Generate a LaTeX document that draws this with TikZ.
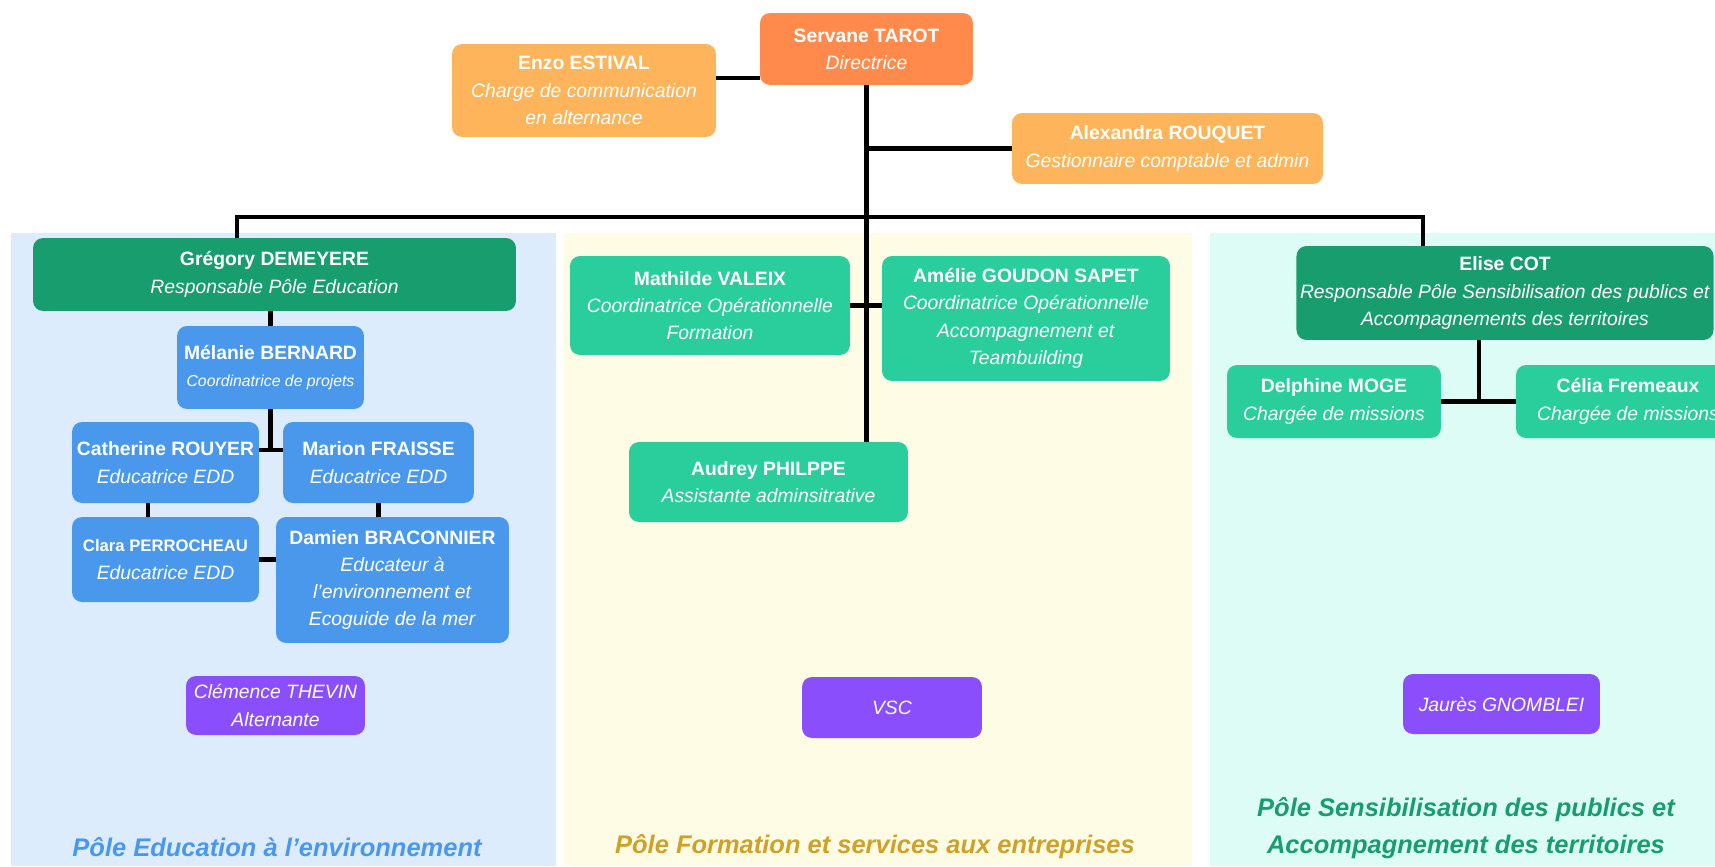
\documentclass[tikz,border=0pt]{standalone}
\usepackage{fontspec}
\setmainfont{Liberation Sans}
\usepackage{tikz}
\definecolor{dirorange}{RGB}{255,138,76}
\definecolor{lightorange}{RGB}{253,180,90}
\definecolor{darkgreen}{RGB}{24,158,110}
\definecolor{edublue}{RGB}{74,152,236}
\definecolor{formgreen}{RGB}{42,206,156}
\definecolor{stagepurple}{RGB}{139,78,252}
\definecolor{panelblue}{RGB}{221,236,253}
\definecolor{panelyellow}{RGB}{255,252,230}
\definecolor{panelmint}{RGB}{221,252,246}
\definecolor{titlegold}{RGB}{206,162,40}
\tikzstyle{box} = [rectangle, rounded corners=0.2cm, text=white, align=center,
inner sep=2pt, font=\fontsize{11}{15.5}\selectfont]
\tikzstyle{direction} = [box, fill=dirorange]
\tikzstyle{support} = [box, fill=lightorange]
\tikzstyle{chief} = [box, fill=darkgreen]
\tikzstyle{educ} = [box, fill=edublue]
\tikzstyle{staff} = [box, fill=formgreen]
\tikzstyle{trainee} = [box, fill=stagepurple]
\tikzstyle{link} = [line width=2.5pt, black]
\tikzstyle{poletitle} = [font=\fontsize{14.5}{21}\selectfont\bfseries\itshape,
align=center]

\begin{document}
\begin{tikzpicture}[x=0.02cm, y=-0.02cm]

\clip (0,0) rectangle (1715,866);

% fonds des poles
\fill[panelblue] (11,233) rectangle (556,866);
\fill[panelyellow] (564,233) rectangle (1192,866);
\fill[panelmint] (1210,233) rectangle (1715,866);

% direction
\node(servane)[direction, minimum width=4.26cm, minimum height=1.44cm] at (866.5,49)
{\textbf{Servane TAROT}\\\textit{Directrice}};
\node(enzo)[support, minimum width=5.28cm, minimum height=1.86cm] at (584,90.5)
{\textbf{Enzo ESTIVAL}\\\textit{Charge de communication}\\\textit{en alternance}};
\node(alexandra)[support, minimum width=6.22cm, minimum height=1.42cm] at (1167.5,148.5)
{\textbf{Alexandra ROUQUET}\\\textit{Gestionnaire comptable et admin}};

% pole education
\node(gregory)[chief, minimum width=9.66cm, minimum height=1.46cm] at (274.5,274.5)
{\textbf{Grégory DEMEYERE}\\\textit{Responsable Pôle Education}};
\node(melanie)[educ, minimum width=3.74cm, minimum height=1.66cm] at (270.5,367.5)
{\textbf{Mélanie BERNARD}\\{\fontsize{9}{13}\selectfont\itshape Coordinatrice de projets}};
\node(catherine)[educ, minimum width=3.74cm, minimum height=1.62cm] at (165.5,462.5)
{\textbf{Catherine ROUYER}\\\textit{Educatrice EDD}};
\node(marion)[educ, minimum width=3.82cm, minimum height=1.62cm] at (378.5,462.5)
{\textbf{Marion FRAISSE}\\\textit{Educatrice EDD}};
\node(clara)[educ, minimum width=3.74cm, minimum height=1.70cm] at (165.5,559.5)
{{\fontsize{9.5}{13}\selectfont\bfseries Clara PERROCHEAU}\\\textit{Educatrice EDD}};
\node(damien)[educ, minimum width=4.66cm, minimum height=2.52cm] at (392.5,580)
{\textbf{Damien BRACONNIER}\\\textit{Educateur à}\\\textit{l'environnement et}\\\textit{Ecoguide de la mer}};
\node(clemence)[trainee, minimum width=3.58cm, minimum height=1.18cm] at (275.5,705.5)
{\textit{Clémence THEVIN}\\\textit{Alternante}};

% pole formation
\node(mathilde)[staff, minimum width=5.60cm, minimum height=1.98cm] at (710,305.5)
{\textbf{Mathilde VALEIX}\\\textit{Coordinatrice Opérationnelle}\\\textit{Formation}};
\node(amelie)[staff, minimum width=5.76cm, minimum height=2.50cm] at (1026,318.5)
{\textbf{Amélie GOUDON SAPET}\\\textit{Coordinatrice Opérationnelle}\\\textit{Accompagnement et}\\\textit{Teambuilding}};
\node(audrey)[staff, minimum width=5.58cm, minimum height=1.60cm] at (768.5,482)
{\textbf{Audrey PHILPPE}\\\textit{Assistante adminsitrative}};
\node(vsc)[trainee, minimum width=3.60cm, minimum height=1.22cm] at (892,707.5)
{\textit{VSC}};

% pole sensibilisation
\node(elise)[chief, minimum width=8.32cm, minimum height=1.88cm] at (1505,293)
{\textbf{Elise COT}\\\textit{Responsable Pôle Sensibilisation des publics et}\\\textit{Accompagnements des territoires}};
\node(delphine)[staff, minimum width=4.28cm, minimum height=1.46cm] at (1334,401.5)
{\textbf{Delphine MOGE}\\\textit{Chargée de missions}};
\node(celia)[staff, minimum width=4.48cm, minimum height=1.46cm] at (1628,401.5)
{\textbf{Célia Fremeaux}\\\textit{Chargée de missions}};
\node(jaures)[trainee, minimum width=3.94cm, minimum height=1.20cm] at (1501.5,704)
{\textit{Jaurès GNOMBLEI}};

% titres des poles
\node(edutitle)[poletitle, text=edublue] at (277,847)
{Pôle Education à l'environnement};
\node(formtitle)[poletitle, text=titlegold] at (875,847)
{Pôle Formation et services aux entreprises};
\node(senstitle)[poletitle, text=darkgreen] at (1466,828.5)
{Pôle Sensibilisation des publics et\\Accompagnement des territoires};

% liens
\coordinate(barleft) at (237,217);
\coordinate(barright) at (1423,217);
\coordinate(enzolink) at (0,78);
\coordinate(claralink) at (148,0);
\coordinate(catlink) at (0,450);
\coordinate(eliselink) at (1479,0);

\draw[link](servane.south) -- (servane.south |- audrey.north);
\draw[link](enzo.east |- enzolink) -- (servane.west |- enzolink);
\draw[link](alexandra.west) -- (alexandra.west -| servane.south);
\draw[link](gregory.north -| barleft) -- (barleft) -- (barright) -- (elise.north -| barright);
\draw[link](mathilde.east) -- (mathilde.east -| amelie.west);

\draw[link](gregory.south -| melanie.north) -- (melanie.north);
\draw[link](melanie.south) -- (melanie.south |- catlink);
\draw[link](catherine.east |- catlink) -- (marion.west |- catlink);
\draw[link](catherine.south -| claralink) -- (clara.north -| claralink);
\draw[link](marion.south) -- (marion.south |- damien.north);
\draw[link](clara.east) -- (clara.east -| damien.west);

\draw[link](elise.south -| eliselink) -- (delphine.east -| eliselink);
\draw[link](delphine.east) -- (celia.west);

\end{tikzpicture}
\end{document}
